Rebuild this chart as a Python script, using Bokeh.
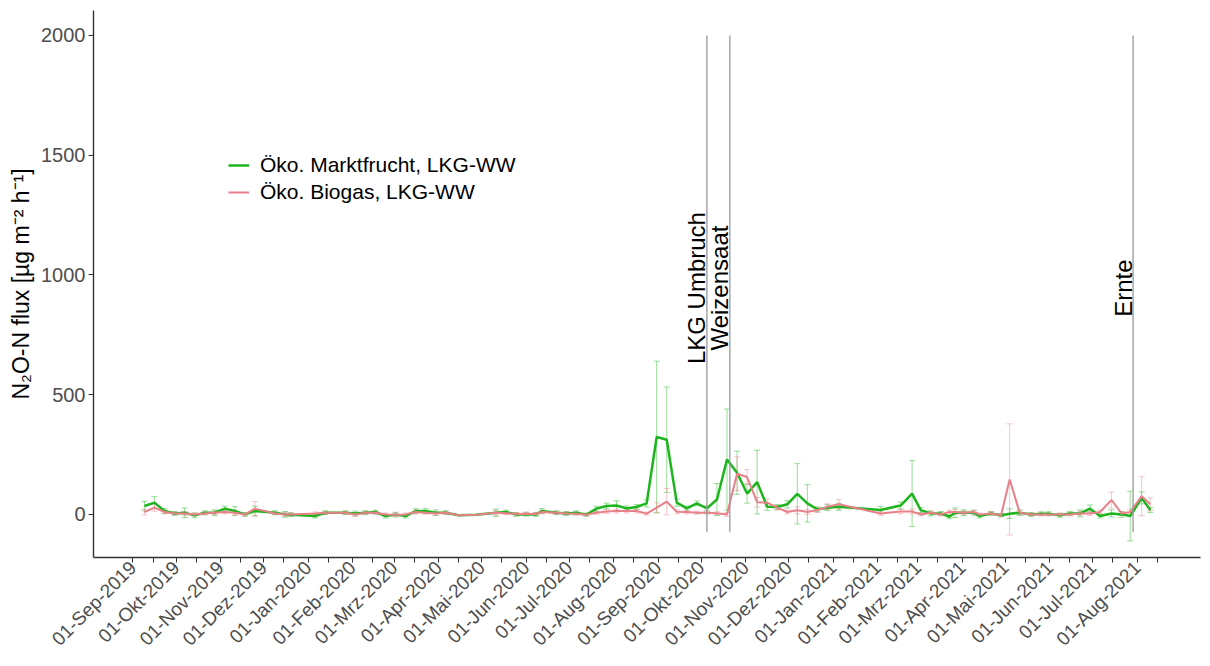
import numpy as np
import pandas as pd
from math import pi
from bokeh.plotting import figure
from bokeh.models import (ColumnDataSource, Whisker, TeeHead, Range1d, FixedTicker,
                          CustomJSTickFormatter, Legend, LegendItem)
from bokeh.core.properties import value
from bokeh.embed import file_html
from bokeh.resources import INLINE

# ---------------- data ----------------
dates = [
    "2019-09-09", "2019-09-16", "2019-09-23", "2019-09-30", "2019-10-07", "2019-10-14",
    "2019-10-21", "2019-10-28", "2019-11-04", "2019-11-11", "2019-11-18", "2019-11-25",
    "2019-12-09", "2019-12-16", "2019-12-20", "2020-01-06", "2020-01-13", "2020-01-27",
    "2020-02-03", "2020-02-10", "2020-02-17", "2020-02-24", "2020-03-02", "2020-03-09",
    "2020-03-16", "2020-03-23", "2020-03-30", "2020-04-06", "2020-04-15", "2020-04-27",
    "2020-05-11", "2020-05-18", "2020-05-25", "2020-06-01", "2020-06-08", "2020-06-12",
    "2020-06-22", "2020-06-29", "2020-07-06", "2020-07-13", "2020-07-20", "2020-07-27",
    "2020-08-03", "2020-08-10", "2020-08-17", "2020-08-24", "2020-08-31", "2020-09-07",
    "2020-09-14", "2020-09-21", "2020-09-28", "2020-10-05", "2020-10-12", "2020-10-19",
    "2020-10-26", "2020-11-02", "2020-11-09", "2020-11-16", "2020-11-23", "2020-11-30",
    "2020-12-07", "2020-12-14", "2020-12-21", "2020-12-28", "2021-01-05", "2021-02-03",
    "2021-02-17", "2021-02-25", "2021-03-03", "2021-03-10", "2021-03-17", "2021-03-23",
    "2021-03-27", "2021-04-02", "2021-04-09", "2021-04-13", "2021-04-21", "2021-04-28",
    "2021-05-04", "2021-05-11", "2021-05-19", "2021-05-26", "2021-05-31", "2021-06-08",
    "2021-06-15", "2021-06-22", "2021-06-29", "2021-07-06", "2021-07-14", "2021-07-21",
    "2021-07-27", "2021-08-04", "2021-08-10",
]

green_mean = [
    35, 49, 14, 4, 7, -4,
    7, 7, 24, 14, 0, 14,
    7, 0, -1, -7, 7, 7,
    4, 7, 10, -7, -1, -7,
    14, 14, 7, 7, -4, -1,
    7, 10, 0, 1, 0, 14,
    7, 4, 7, -1, 24, 35,
    37, 25, 31, 46, 323, 312,
    49, 25, 46, 25, 62, 229,
    174, 87, 135, 32, 31, 42,
    86, 46, 21, 28, 32, 18,
    37, 87, 18, 4, 4, -10,
    7, 7, 7, -7, 4, -4,
    3, 7, 0, 3, 3, -4,
    4, 4, 24, -7, 4, 0,
    -7, 69, 18,
]
green_sd = [
    20, 25, 10, 8, 20, 10,
    8, 12, 10, 18, 8, 20,
    8, 12, 8, 8, 8, 8,
    10, 8, 8, 8, 10, 8,
    10, 10, 12, 8, None, None,
    15, 8, 8, 8, 8, 10,
    8, 8, 8, 6, 10, 12,
    20, 10, 10, 15, 317, 220,
    15, 10, 10, 10, 67, 211,
    90, 40, 133, 15, 10, 15,
    126, 78, 10, 12, 15, 15,
    15, 138, 10, 10, 8, 8,
    20, 12, 10, 8, 8, 6,
    20, 12, 8, 8, 8, 8,
    8, 15, 15, 8, 15, 12,
    104, 25, 10,
]
red_mean = [
    10, 28, 10, 4, 4, 0,
    4, 7, 10, 7, 0, 24,
    4, 0, 0, 4, 7, 7,
    0, 7, 7, 0, -1, 0,
    10, 7, 4, 7, -4, -1,
    7, 5, 2, 3, 2, 10,
    7, 4, 3, -1, 7, 12,
    14, 14, 14, 3, 28, 53,
    11, 10, 7, 7, 5, 0,
    170, 156, 51, 49, 28, 10,
    17, 10, 18, 32, 42, 4,
    12, 12, 0, 7, 0, 10,
    10, 7, 10, 0, 4, -4,
    146, 7, 0, 0, 0, 0,
    0, 4, 4, 10, 60, 4,
    10, 76, 42,
]
red_sd = [
    12, 15, 8, 6, 8, 6,
    6, 8, 8, 10, 6, 30,
    6, 8, 6, 6, 6, 6,
    8, 6, 6, 6, 8, 6,
    8, 6, 8, 6, None, None,
    10, 6, 6, 6, 6, 8,
    6, 6, 6, 6, 6, 8,
    8, 8, 8, 6, 20, 55,
    8, 8, 6, 6, 6, 8,
    70, 31, 20, 15, 10, 8,
    15, 10, 10, 12, 20, 8,
    10, 10, 6, 6, 6, 8,
    10, 8, 8, 6, 6, 6,
    232, 8, 6, 6, 6, 6,
    6, 8, 8, 8, 33, 8,
    10, 81, 27,
]

event_dates = ["2020-10-05", "2020-10-21", "2021-07-29"]
event_labels = ["LKG Umbruch", "Weizensaat", "Ernte"]
event_text_y = 945
event_y0 = -75
event_y1 = 2000

y_ticks = [0, 500, 1000, 1500, 2000]
month_names = ["Jan", "Feb", "Mrz", "Apr", "Mai", "Jun", "Jul", "Aug", "Sep", "Okt", "Nov", "Dez"]
series_labels = ["Öko. Marktfrucht, LKG-WW", "Öko. Biogas, LKG-WW"]

# ---------------- styling ----------------
GREEN = "#1DB41D"
RED = "#E8808A"
FONT = "Liberation Sans"
AXIS_COL = "#333333"
TICK_TXT = "#4D4D4D"


def ms(ts):
    return pd.Timestamp(ts).value // 10**6


x = pd.to_datetime(dates)
g_sd = np.array([np.nan if v is None else v for v in green_sd], dtype=float)
r_sd = np.array([np.nan if v is None else v for v in red_sd], dtype=float)
g_m = np.array(green_mean, dtype=float)
r_m = np.array(red_mean, dtype=float)

src = ColumnDataSource(dict(x=x, g=g_m, r=r_m))
gok = ~np.isnan(g_sd)
rok = ~np.isnan(r_sd)
g_err = ColumnDataSource(dict(x=x[gok], lo=(g_m - g_sd)[gok], hi=(g_m + g_sd)[gok]))
r_err = ColumnDataSource(dict(x=x[rok], lo=(r_m - r_sd)[rok], hi=(r_m + r_sd)[rok]))

start = pd.Timestamp("2019-09-01")
x_range = Range1d(start=start - pd.Timedelta(days=27.5), end=start + pd.Timedelta(days=744))
y_range = Range1d(start=-180, end=2104)

p = figure(width=1205, height=662, x_axis_type="datetime", x_range=x_range, y_range=y_range,
           output_backend="svg", toolbar_location=None,
           min_border_left=93, min_border_right=5, min_border_top=10, min_border_bottom=105)
p.background_fill_color = "white"
p.border_fill_color = "white"
p.outline_line_color = None
p.grid.visible = False

# error bars
for s, col in ((g_err, GREEN), (r_err, RED)):
    w = Whisker(source=s, base="x", lower="lo", upper="hi", dimension="height",
                line_color=col, line_alpha=0.45, line_width=1,
                lower_head=TeeHead(size=6, line_color=col, line_alpha=0.45, line_width=1),
                upper_head=TeeHead(size=6, line_color=col, line_alpha=0.45, line_width=1))
    p.add_layout(w)

gl = p.line("x", "g", source=src, line_color=GREEN, line_width=2.5)
rl = p.line("x", "r", source=src, line_color=RED, line_width=2)

# event lines + labels
ev = pd.to_datetime(event_dates)
p.segment(x0=ev, y0=[event_y0] * len(ev), x1=ev, y1=[event_y1] * len(ev),
          line_color="#999999", line_width=1.3)
p.text(x=ev, y=[event_text_y] * len(ev), text=event_labels, angle=pi / 2,
       text_align="center", text_baseline="middle", x_offset=-10,
       text_font=value(FONT), text_font_size="24px", text_color="black")

# legend
legend = Legend(items=[LegendItem(label=series_labels[0], renderers=[gl]),
                       LegendItem(label=series_labels[1], renderers=[rl])],
                location=(135, 352), label_text_font=FONT, label_text_font_size="21px",
                label_text_color="black", glyph_width=21, glyph_height=26, label_height=26,
                spacing=1, padding=0, margin=0, label_standoff=11,
                border_line_alpha=0, background_fill_alpha=0)
p.add_layout(legend)

# x axis
major = [ms(d) for d in pd.date_range("2019-09-01", "2021-08-01", freq="MS")]
minor = [ms(d + pd.Timedelta(days=14)) for d in pd.date_range("2019-09-01", "2021-08-01", freq="MS")]
xa = p.xaxis[0]
xa.ticker = FixedTicker(ticks=major, minor_ticks=minor)
xa.formatter = CustomJSTickFormatter(args=dict(names=month_names), code="""
    const d = new Date(tick);
    const dd = String(d.getUTCDate()).padStart(2, "0");
    return dd + "-" + names[d.getUTCMonth()] + "-" + d.getUTCFullYear();
""")
xa.major_label_orientation = pi / 4
xa.major_label_text_font = FONT
xa.major_label_text_font_size = "19px"
xa.major_label_text_color = TICK_TXT
xa.major_label_standoff = 2
xa.minor_tick_out = 5
xa.minor_tick_in = 0
xa.minor_tick_line_color = AXIS_COL

# y axis
ya = p.yaxis[0]
ya.ticker = FixedTicker(ticks=y_ticks)
ya.axis_label = "N₂O-N flux [µg m⁻² h⁻¹]"
ya.axis_label_text_font = FONT
ya.axis_label_text_font_size = "23px"
ya.axis_label_text_font_style = "normal"
ya.axis_label_text_color = "black"
ya.axis_label_standoff = 4
ya.major_label_text_font = FONT
ya.major_label_text_font_size = "20px"
ya.major_label_text_color = TICK_TXT
ya.major_label_standoff = 3
ya.minor_tick_line_color = None

for ax in (xa, ya):
    ax.axis_line_color = AXIS_COL
    ax.axis_line_width = 1.4
    ax.major_tick_line_color = AXIS_COL
    ax.major_tick_out = 5
    ax.major_tick_in = 0

open("out.html", "w").write(file_html(p, INLINE))
